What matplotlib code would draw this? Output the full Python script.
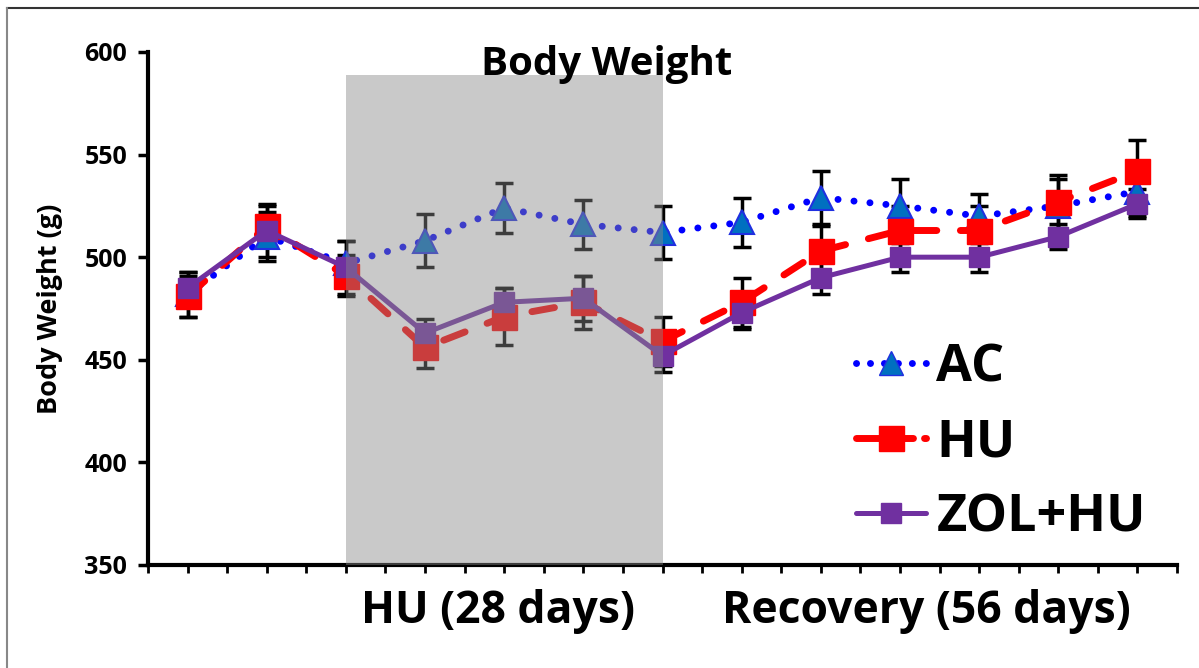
import numpy as np
import matplotlib.pyplot as plt
from matplotlib.patches import Rectangle
from matplotlib.lines import Line2D

plt.rcParams['font.family'] = ['Open Sans', 'DejaVu Sans']

# Body weight (g), 13 time points
ac = [482, 510, 497, 508, 524, 516, 512, 517, 529, 525, 520, 525, 532]
ac_err = [11, 12, 11, 13, 12, 12, 13, 12, 13, 13, 11, 13, 12]
hu = [481, 515, 491, 456, 471, 478, 459, 478, 503, 513, 513, 527, 542]
hu_err = [10, 10, 10, 10, 14, 13, 12, 12, 12, 12, 12, 13, 15]
zol = [485, 513, 495, 463, 478, 480, 452, 473, 490, 500, 500, 510, 526]
zol_err = [8, 13, 13, 7, 7, 11, 8, 8, 8, 7, 7, 6, 7]

x = np.arange(len(ac)) + 0.5

fig = plt.figure(figsize=(11.99, 6.68), dpi=100)
ax = fig.add_axes([0.1234, 0.1542, 0.8583, 0.768])

for vals, errs in [(ac, ac_err), (hu, hu_err), (zol, zol_err)]:
    ax.errorbar(x, vals, yerr=errs, fmt='none', ecolor='black', elinewidth=2.5,
                capsize=6.5, capthick=2.5, zorder=2)

ax.plot(x, ac, color='#0000ff', lw=5, linestyle=(0, (0.01, 2.3)),
        dash_capstyle='round', marker='^', ms=17, mfc='#0070c0', mec='#1f2fe0',
        mew=1.5, zorder=3, label='AC')
ax.plot(x, hu, color='#ff0000', lw=5, linestyle=(0, (3.3, 3.4)),
        dash_capstyle='round', marker='s', ms=18, mfc='#ff0000', mec='#ff0000',
        zorder=4, label='HU')
ax.plot(x, zol, color='#7030a0', lw=3.6, marker='s', ms=14, mfc='#7030a0',
        mec='#7030a0', zorder=5, label='ZOL+HU')

# HU period overlay
ax.add_patch(Rectangle((2.5, 350), 4.0, 239, facecolor='#888888', alpha=0.45,
                       edgecolor='none', zorder=10, clip_on=False))

ax.set_xlim(0, 13)
ax.set_ylim(350, 600)
ax.set_yticks([350, 400, 450, 500, 550, 600])
ax.set_xticks(np.arange(0, 13.01, 0.5))
ax.set_xticklabels([])
for s in ['top', 'right']:
    ax.spines[s].set_visible(False)
for s in ['left', 'bottom']:
    ax.spines[s].set_linewidth(3)
ax.tick_params(axis='y', direction='out', length=7, width=2.5, pad=8)
ax.tick_params(axis='x', direction='out', length=6, width=2)
ax.set_yticklabels([str(v) for v in ax.get_yticks().astype(int)],
                   fontsize=18, fontweight='bold')
ax.set_ylabel('Body Weight (g)', fontsize=19.5, fontweight='bold', labelpad=15)

ax.text(4.42, -0.09, 'HU (28 days)', transform=ax.get_xaxis_transform(),
        ha='center', va='center', fontsize=32, fontweight='bold')
ax.text(9.83, -0.09, 'Recovery (56 days)', transform=ax.get_xaxis_transform(),
        ha='center', va='center', fontsize=32, fontweight='bold')

fig.text(0.506, 0.903, 'Body Weight', ha='center', va='center',
         fontsize=29, fontweight='bold', zorder=1)

handles = [
    Line2D([], [], color='#0000ff', lw=5, linestyle=(0, (0.01, 2.0)),
           dash_capstyle='round', marker='^', ms=17, mfc='#0070c0', mec='#1f2fe0'),
    Line2D([], [], color='#ff0000', lw=5, linestyle=(0, (3.3, 1.6)),
           dash_capstyle='round', marker='s', ms=18, mfc='#ff0000', mec='#ff0000'),
    Line2D([], [], color='#7030a0', lw=3.6, solid_capstyle='round', marker='s',
           ms=14, mfc='#7030a0', mec='#7030a0'),
]
leg = ax.legend(handles, ['AC', 'HU', 'ZOL+HU'], loc='lower right',
                bbox_to_anchor=(0.99, 0.0), frameon=False, fontsize=37.5,
                handlelength=1.35, handletextpad=0.2, labelspacing=0.42,
                borderaxespad=0.0)
for t in leg.get_texts():
    t.set_fontweight('bold')

# outer frame of the original slide
fig.add_artist(Line2D([0.006, 1.0], [0.988, 0.988], transform=fig.transFigure,
                      color='#333333', lw=1.5))
fig.add_artist(Line2D([0.006, 0.006], [0.0, 0.988], transform=fig.transFigure,
                      color='#888888', lw=1.5))

fig.savefig('out.png', dpi=100)
